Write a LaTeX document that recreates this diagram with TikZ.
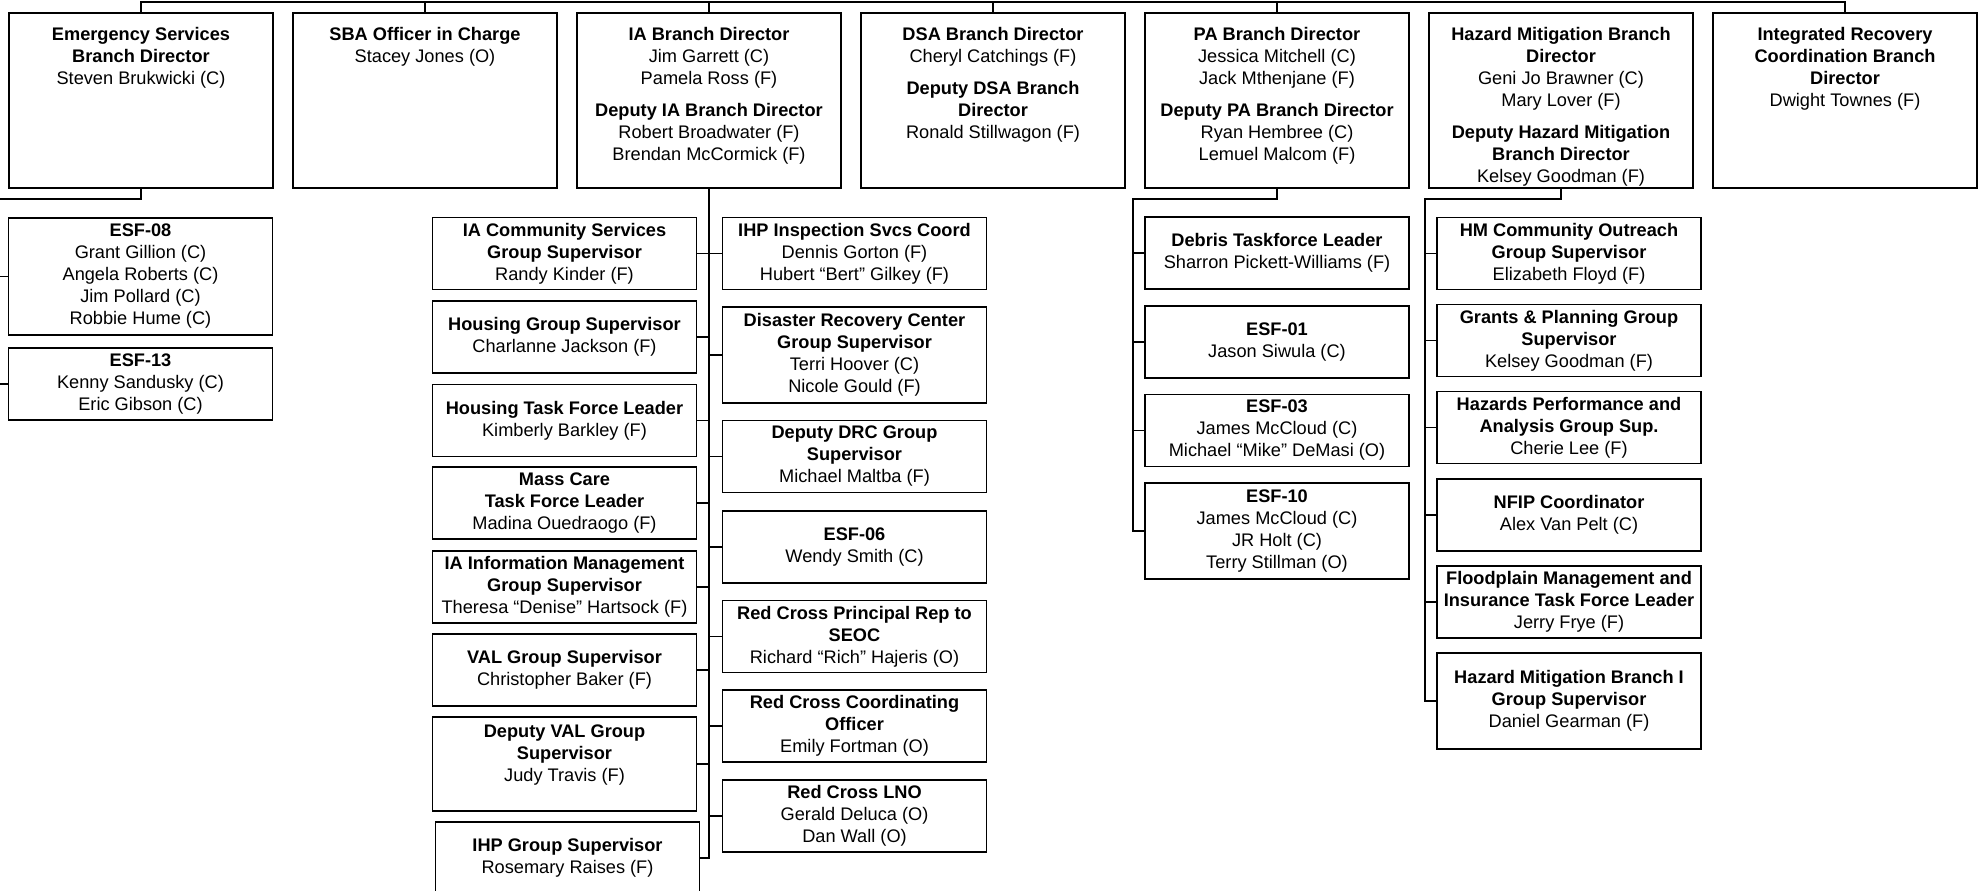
\documentclass[tikz,border=0pt]{standalone}
\usepackage{fontspec}
\setmainfont{Liberation Sans}
\usetikzlibrary{positioning}

\tikzset{
  wire/.style={line width=0.8pt},
  topbox/.style={draw,line width=0.8pt,minimum width=132pt,minimum height=87.5pt,inner sep=0pt},
  toptext/.style={anchor=north,align=center,inner sep=0pt,font=\fontsize{9.1}{11}\selectfont},
  subbox/.style={draw,line width=0.8pt,minimum width=132pt,minimum height=36pt,inner sep=1pt,
    align=center,font=\fontsize{9.1}{11}\selectfont},
}
\newcommand\hd[1]{\textbf{#1}}

\begin{document}
\begin{tikzpicture}[x=0.5pt,y=-0.5pt]
\useasboundingbox (0,0) rectangle (1986,890);
\pgfmathsetmacro\rowy{100.5}

% branch directors
\node[topbox] (es)  at (141,\rowy)  {};
\node[topbox] (sba) at (425,\rowy)  {};
\node[topbox] (ia)  at (709,\rowy)  {};
\node[topbox] (dsa) at (993,\rowy)  {};
\node[topbox] (pa)  at (1277,\rowy) {};
\node[topbox] (hm)  at (1561,\rowy) {};
\node[topbox] (irc) at (1845,\rowy) {};

\node[toptext,below=7.5pt of es.north]  {\hd{Emergency Services}\\\hd{Branch Director}\\Steven Brukwicki (C)};
\node[toptext,below=7.5pt of sba.north] {\hd{SBA Officer in Charge}\\Stacey Jones (O)};
\node[toptext,below=7.5pt of ia.north]  {\hd{IA Branch Director}\\Jim Garrett (C)\\Pamela Ross (F)\\[5pt]
  \hd{Deputy IA Branch Director}\\Robert Broadwater (F)\\Brendan McCormick (F)};
\node[toptext,below=7.5pt of dsa.north] {\hd{DSA Branch Director}\\Cheryl Catchings (F)\\[5pt]
  \hd{Deputy DSA Branch}\\\hd{Director}\\Ronald Stillwagon (F)};
\node[toptext,below=7.5pt of pa.north]  {\hd{PA Branch Director}\\Jessica Mitchell (C)\\Jack Mthenjane (F)\\[5pt]
  \hd{Deputy PA Branch Director}\\Ryan Hembree (C)\\Lemuel Malcom (F)};
\node[toptext,below=7.5pt of hm.north]  {\hd{Hazard Mitigation Branch}\\\hd{Director}\\Geni Jo Brawner (C)\\Mary Lover (F)\\[5pt]
  \hd{Deputy Hazard Mitigation}\\\hd{Branch Director}\\Kelsey Goodman (F)};
\node[toptext,below=7.5pt of irc.north] {\hd{Integrated Recovery}\\\hd{Coordination Branch}\\\hd{Director}\\Dwight Townes (F)};

\coordinate (bus) at (0,2);
\draw[wire] (es.north) -- (es.north |- bus) -- (irc.north |- bus) -- (irc.north);
\foreach \n in {sba,ia,dsa,pa}
  \draw[wire] (\n.north) -- (\n.north |- bus);

% emergency services
\node[subbox,minimum height=58.5pt] (esf08) at (140.5,276.5) {\hd{ESF-08}\\Grant Gillion (C)\\Angela Roberts (C)\\Jim Pollard (C)\\Robbie Hume (C)};
\node[subbox] (esf13) at (140.5,384) {\hd{ESF-13}\\Kenny Sandusky (C)\\Eric Gibson (C)};
\coordinate (esbus) at (-1,199);
\draw[wire] (es.south) |- (esbus) |- (esf13.west);
\draw[wire] (esbus |- esf08.west) -- (esf08.west);

% individual assistance, left column
\node[subbox] (iacs)  at (564.5,253.5) {\hd{IA Community Services}\\\hd{Group Supervisor}\\Randy Kinder (F)};
\node[subbox] (hgs)   at (564.5,337)   {\hd{Housing Group Supervisor}\\Charlanne Jackson (F)};
\node[subbox] (htf)   at (564.5,420.5) {\hd{Housing Task Force Leader}\\Kimberly Barkley (F)};
\node[subbox] (mctf)  at (564.5,503)   {\hd{Mass Care}\\\hd{Task Force Leader}\\Madina Ouedraogo (F)};
\node[subbox] (iaim)  at (564.5,587)   {\hd{IA Information Management}\\\hd{Group Supervisor}\\Theresa “Denise” Hartsock (F)};
\node[subbox] (valgs) at (564.5,670)   {\hd{VAL Group Supervisor}\\Christopher Baker (F)};
\node[subbox,minimum height=47pt] (dval) at (564.5,764)
  {\hd{Deputy VAL Group}\\\hd{Supervisor}\\Judy Travis (F)\\};
\node[subbox] (ihpgs) at (567.5,858)   {\hd{IHP Group Supervisor}\\Rosemary Raises (F)};

% individual assistance, right column
\node[subbox] (ihpis) at (854.5,253.5) {\hd{IHP Inspection Svcs Coord}\\Dennis Gorton (F)\\Hubert “Bert” Gilkey (F)};
\node[subbox,minimum height=48pt] (drc) at (854.5,355)
  {\hd{Disaster Recovery Center}\\\hd{Group Supervisor}\\Terri Hoover (C)\\Nicole Gould (F)};
\node[subbox] (ddrc)  at (854.5,456.5) {\hd{Deputy DRC Group}\\\hd{Supervisor}\\Michael Maltba (F)};
\node[subbox] (esf06) at (854.5,547)   {\hd{ESF-06}\\Wendy Smith (C)};
\node[subbox] (rcpr)  at (854.5,636.5) {\hd{Red Cross Principal Rep to}\\\hd{SEOC}\\Richard “Rich” Hajeris (O)};
\node[subbox] (rcco)  at (854.5,726)   {\hd{Red Cross Coordinating}\\\hd{Officer}\\Emily Fortman (O)};
\node[subbox] (rclno) at (854.5,816)   {\hd{Red Cross LNO}\\Gerald Deluca (O)\\Dan Wall (O)};

\draw[wire] (ia.south) |- (ihpgs.east);
\foreach \n in {iacs,hgs,htf,mctf,iaim,valgs,dval}
  \draw[wire] (ia.south |- \n.east) -- (\n.east);
\foreach \n in {ihpis,drc,ddrc,esf06,rcpr,rcco,rclno}
  \draw[wire] (ia.south |- \n.west) -- (\n.west);

% public assistance
\node[subbox] (debris) at (1277,253)   {\hd{Debris Taskforce Leader}\\Sharron Pickett-Williams (F)};
\node[subbox] (esf01)  at (1277,342)   {\hd{ESF-01}\\Jason Siwula (C)};
\node[subbox] (esf03)  at (1277,430.5) {\hd{ESF-03}\\James McCloud (C)\\Michael “Mike” DeMasi (O)};
\node[subbox,minimum height=48pt] (esf10) at (1277,531)
  {\hd{ESF-10}\\James McCloud (C)\\JR Holt (C)\\Terry Stillman (O)};
\coordinate (pabus) at (1133,199);
\draw[wire] (pa.south) |- (pabus) |- (esf10.west);
\foreach \n in {debris,esf01,esf03}
  \draw[wire] (pabus |- \n.west) -- (\n.west);

% hazard mitigation
\node[subbox] (hmco)  at (1569,253.5) {\hd{HM Community Outreach}\\\hd{Group Supervisor}\\Elizabeth Floyd (F)};
\node[subbox] (gpgs)  at (1569,340.5) {\hd{Grants \& Planning Group}\\\hd{Supervisor}\\Kelsey Goodman (F)};
\node[subbox] (hpags) at (1569,427.5) {\hd{Hazards Performance and}\\\hd{Analysis Group Sup.}\\Cherie Lee (F)};
\node[subbox] (nfip)  at (1569,515)   {\hd{NFIP Coordinator}\\Alex Van Pelt (C)};
\node[subbox] (fmit)  at (1569,602)   {\hd{Floodplain Management and}\\\hd{Insurance Task Force Leader}\\Jerry Frye (F)};
\node[subbox,minimum height=48pt] (hmbg) at (1569,701)
  {\hd{Hazard Mitigation Branch I}\\\hd{Group Supervisor}\\Daniel Gearman (F)};
\coordinate (hmbus) at (1425,199);
\draw[wire] (hm.south) |- (hmbus) |- (hmbg.west);
\foreach \n in {hmco,gpgs,hpags,nfip,fmit}
  \draw[wire] (hmbus |- \n.west) -- (\n.west);
\end{tikzpicture}
\end{document}
